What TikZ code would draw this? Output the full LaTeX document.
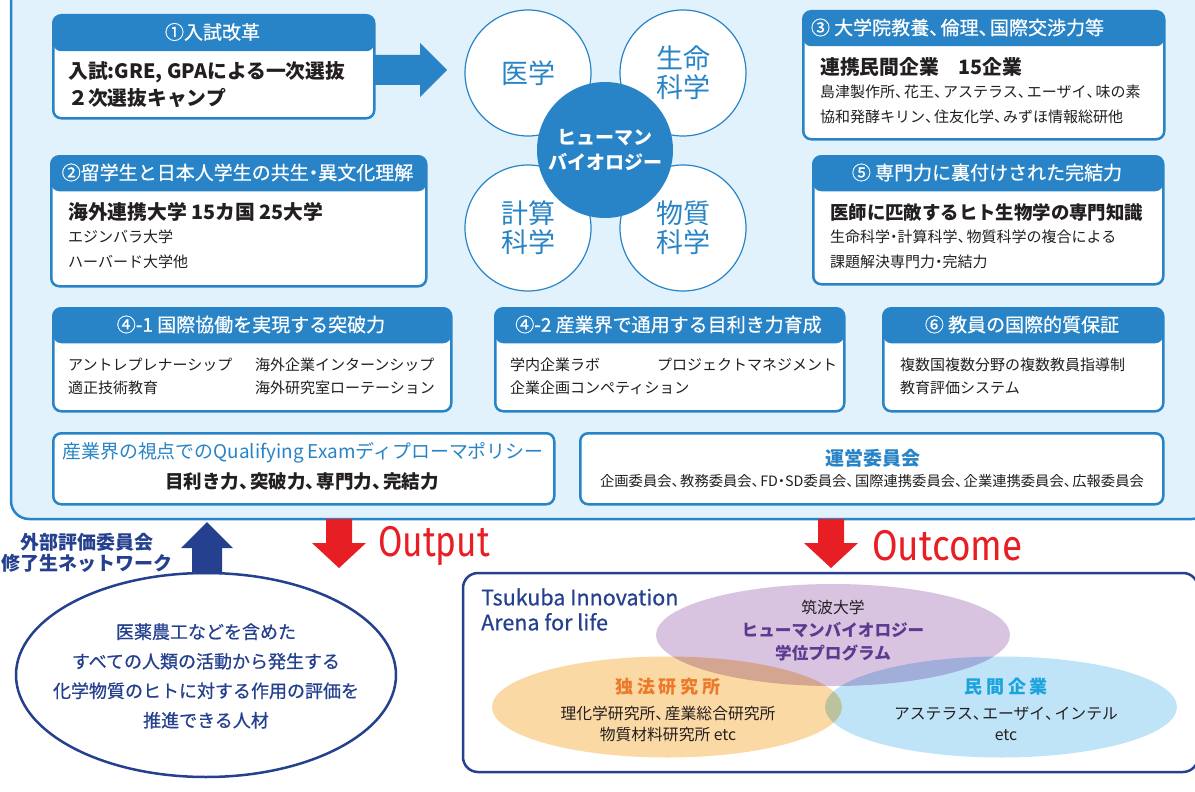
\documentclass[tikz,border=0pt]{standalone}
\usepackage{fontspec}
\setmainfont{Noto Sans CJK JP}
\newfontfamily\medfont[FakeBold=0.6]{Noto Sans CJK JP}
\newfontfamily\latinfont{Fira Sans}
\usetikzlibrary{shapes.geometric}
\definecolor{cblue}{HTML}{2884C6}
\definecolor{cpanel}{HTML}{E1F2FC}
\definecolor{cnavy}{HTML}{24408F}
\definecolor{cred}{HTML}{E81E25}
\definecolor{ctext}{HTML}{231F20}
\definecolor{cpurplef}{HTML}{D8C3E1}
\definecolor{cpurplet}{HTML}{5B3A8F}
\definecolor{corangef}{HTML}{FBD9A4}
\definecolor{corranget}{HTML}{EB7A2B}
\definecolor{clbluef}{HTML}{BFE4F7}
\definecolor{ccyant}{HTML}{1AA3DC}
\newcommand\tc{\makebox[0.6em][l]{、}}
\newcommand\md{\makebox[0.5em][c]{・}}
\newcommand\hbx[8]{%
  \node[hbox=#6pt, minimum width=#4-#2, minimum height=#5-#3] (#1) at (#2,#3) {};
  \node[htitle] (#1title) at ({(#2+#4)/2+#7},{#3+#6/2}) {#8};}
\begin{document}
\begin{tikzpicture}[x=1pt,y=-1pt,
  hbox/.style={draw=cblue, line width=2.5pt, fill=white, rounded corners=8pt,
    anchor=north west, inner sep=0pt, rectangle,
    path picture={\fill[cblue] (path picture bounding box.north west) rectangle ([yshift=-#1]path picture bounding box.north east);}},
  pbox/.style={draw=cblue, line width=2.5pt, fill=white, rounded corners=8pt,
    anchor=north west, inner sep=0pt, rectangle},
  htitle/.style={text=white, font=\medfont\fontsize{19}{21}\selectfont, inner sep=0pt},
  bodyb/.style={text=ctext, font=\bfseries\fontsize{19.8}{22}\selectfont, anchor=west, inner sep=0pt},
  bodys/.style={text=ctext, font=\fontsize{15}{17}\selectfont, anchor=west, inner sep=0pt},
  disc/.style={circle, draw=cblue, line width=1.2pt, fill=white, minimum size=126pt, inner sep=0pt,
    text=cblue, font=\fontsize{27}{29}\selectfont, align=center},
  navytext/.style={text=cnavy, inner sep=0pt, align=center},
  venn/.style={ellipse, inner sep=0pt},
  small/.style={text=ctext, font=\fontsize{15.8}{21}\selectfont, inner sep=0pt, align=center},
  bigword/.style={text=cred, inner sep=0pt, anchor=west, font=\latinfont\fontsize{43}{43}\selectfont}
]
\useasboundingbox (0,0) rectangle (1195,792);
% upper panel
\draw[draw=cblue, fill=cpanel, line width=2.5pt, rounded corners=18pt] (11,-30) rectangle (1210,519);

% boxes
\hbx{b1}{52}{14}{373}{117}{36}{0}{①入試改革}
\node[bodyb] (b1a) at (68,72) {入試:GRE, GPAによる一次選抜};
\node[bodyb] (b1b) at (68,98) {２次選抜キャンプ};

\hbx{b2}{50}{155}{425}{285}{35}{0}{②留学生と日本人学生の共生\md 異文化理解}
\node[bodyb] (b2a) at (68,212) {海外連携大学 15カ国 25大学};
\node[bodys] (b2b) at (68,237) {エジンバラ大学};
\node[bodys] (b2c) at (68,262) {ハーバード大学他};

\hbx{b3}{802}{10}{1163}{138}{35}{-25}{③ 大学院教養\tc 倫理\tc 国際交渉力等}
\node[bodyb] (b3a) at (820,67) {連携民間企業\quad 15企業};
\node[bodys] (b3b) at (820,92) {島津製作所\tc 花王\tc アステラス\tc エーザイ\tc 味の素};
\node[bodys] (b3c) at (820,117) {協和発酵キリン\tc 住友化学\tc みずほ情報総研他};

\hbx{b5}{812}{155}{1162}{283}{35}{0}{⑤ 専門力に裏付けされた完結力}
\node[bodyb, font=\bfseries\fontsize{18.4}{22}\selectfont] (b5a) at (830,212) {医師に匹敵するヒト生物学の専門知識};
\node[bodys] (b5b) at (830,237) {生命科学\md 計算科学\tc 物質科学の複合による};
\node[bodys] (b5c) at (830,262) {課題解決専門力\md 完結力};

\hbx{b41}{52}{307}{450}{410}{35}{0}{④-1 国際協働を実現する突破力}
\node[bodys] (b41a) at (68,365) {アントレプレナーシップ};
\node[bodys] (b41b) at (255,365) {海外企業インターンシップ};
\node[bodys] (b41c) at (68,388) {適正技術教育};
\node[bodys] (b41d) at (255,388) {海外研究室ローテーション};

\hbx{b42}{494}{307}{843}{410}{35}{0}{④-2 産業界で通用する目利き力育成}
\node[bodys] (b42a) at (510,365) {学内企業ラボ};
\node[bodys] (b42b) at (657,365) {プロジェクトマネジメント};
\node[bodys] (b42c) at (510,388) {企業企画コンペティション};

\hbx{b6}{882}{307}{1162}{410}{35}{0}{⑥ 教員の国際的質保証}
\node[bodys] (b6a) at (900,365) {複数国複数分野の複数教員指導制};
\node[bodys] (b6b) at (900,388) {教育評価システム};

\node[pbox, minimum width=501pt, minimum height=71pt] (qb) at (52,432) {};
\node[text=cblue, inner sep=0pt, font=\fontsize{18.9}{20}\selectfont] (qba) at (303,453) {産業界の視点でのQualifying Examディプローマポリシー};
\node[text=ctext, inner sep=0pt, font=\bfseries\fontsize{18.5}{20}\selectfont] (qbb) at (302,482) {目利き力\tc 突破力\tc 専門力\tc 完結力};

\node[pbox, minimum width=583pt, minimum height=71pt] (ub) at (579,432) {};
\node[text=cblue, inner sep=0pt, font=\bfseries\fontsize{19}{20}\selectfont] (uba) at (873,458) {運営委員会};
\node[text=ctext, inner sep=0pt, font=\fontsize{14.3}{16}\selectfont] (ubb) at (872,481) {企画委員会\tc 教務委員会\tc FD\md SD委員会\tc 国際連携委員会\tc 企業連携委員会\tc 広報委員会};

% arrow from box 1 to circles
\fill[cblue] (373,55) -- (420,55) -- (420,43) -- (447,70) -- (420,97) -- (420,85) -- (373,85) -- cycle;

% circles
\node[disc] (c1) at (528,73) {医学};
\node[disc] (c2) at (683,73) {生命\\科学};
\node[disc] (c3) at (528,228) {計算\\科学};
\node[disc] (c4) at (683,228) {物質\\科学};
\node[circle, fill=cblue, minimum size=136pt, inner sep=0pt, text=white, align=center,
  font=\bfseries\fontsize{19}{25}\selectfont] (cc) at (605,150) {ヒューマン\\バイオロジー};

% lower left
\node[ellipse, draw=cnavy, line width=2.5pt, fill=white, minimum width=380pt, minimum height=204pt] (el) at (206,675) {};
\node[navytext, font=\medfont\fontsize{18}{29.5}\selectfont] (elt) at (206,676) {医薬農工などを含めた\\すべての人類の活動から発生する\\化学物質のヒトに対する作用の評価を\\推進できる人材};
\fill[cnavy] (192,574) -- (192,548) -- (181,548) -- (207,522) -- (233,548) -- (222,548) -- (222,574) -- cycle;
\node[navytext, font=\bfseries\fontsize{19}{21}\selectfont] (ext) at (87,553) {外部評価委員会\\修了生ネットワーク};

% red arrows
\fill[cred] (326,519) -- (352,519) -- (352,543) -- (366,543) -- (339,568) -- (312,543) -- (326,543) -- cycle;
\node[bigword] (out1) at (378,546) {\scalebox{0.82}[1]{Output}};
\fill[cred] (818,519) -- (844,519) -- (844,543) -- (858,543) -- (831,568) -- (804,543) -- (818,543) -- cycle;
\node[bigword] (out2) at (872,546) {\scalebox{0.86}[1]{Outcome}};

% lower right
\draw[draw=cnavy, line width=2.5pt, rounded corners=15pt] (463,573) rectangle (1198,772);
\node[text=cnavy, inner sep=0pt, anchor=west, align=left, font=\medfont\fontsize{21.5}{25}\selectfont] (tia) at (481,609.5) {Tsukuba Innovation\\Arena for life};
\begin{scope}[blend group=multiply]
\node[venn, fill=cpurplef, minimum width=354pt, minimum height=102pt] (vp) at (833,635) {};
\node[venn, fill=corangef, minimum width=350pt, minimum height=101pt] (vo) at (667,707) {};
\node[venn, fill=clbluef, minimum width=352pt, minimum height=101pt] (vb) at (1001,707) {};
\end{scope}
\node[small] (vpa) at (833,607) {筑波大学};
\node[text=cpurplet, inner sep=0pt, align=center, font=\bfseries\fontsize{16.6}{23}\selectfont] (vpb) at (833,641.5) {ヒューマンバイオロジー\\学位プログラム};
\node[text=corranget, inner sep=0pt, font=\bfseries\fontsize{18}{20}\selectfont] (voa) at (668,687) {独\hspace{4pt}法\hspace{4pt}研\hspace{4pt}究\hspace{4pt}所};
\node[small] (vob) at (668,723.5) {理化学研究所\tc 産業総合研究所\\物質材料研究所 etc};
\node[text=ccyant, inner sep=0pt, font=\bfseries\fontsize{18}{20}\selectfont] (vba) at (1006,687) {民\hspace{4pt}間\hspace{4pt}企\hspace{4pt}業};
\node[small] (vbb) at (1006,723.5) {アステラス\tc エーザイ\tc インテル\\etc};
\end{tikzpicture}
\end{document}
